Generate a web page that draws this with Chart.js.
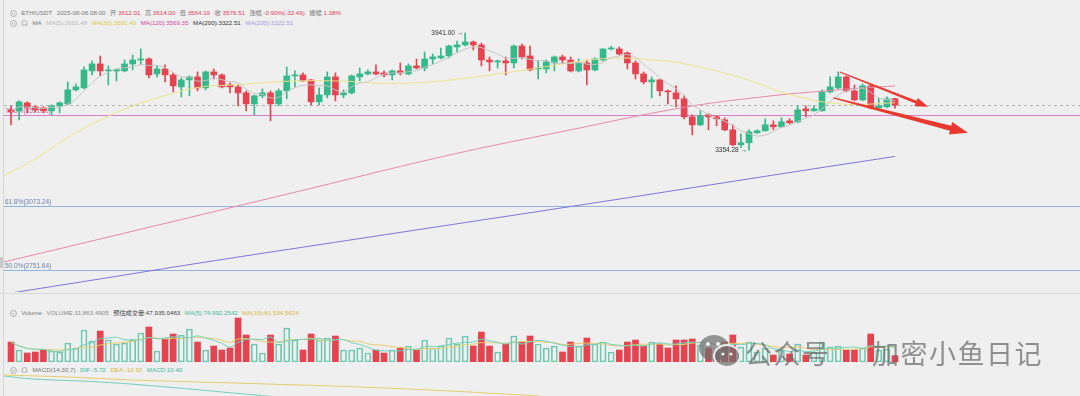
<!DOCTYPE html>
<html>
<head>
<meta charset="utf-8">
<script src="https://cdn.jsdelivr.net/npm/chart.js@4.4.1/dist/chart.umd.min.js"></script>
<style>
html, body { margin: 0; padding: 0; width: 1080px; height: 396px; overflow: hidden; background: #efefef;
    font-family: "Liberation Sans", Arial, "Noto Sans CJK SC", sans-serif; }
.pane { position: absolute; left: 4px; }
.t { position: absolute; left: 10px; height: 8px; font-size: 6.2px; line-height: 8px; white-space: nowrap; color: #777; }
.t > * { display: inline-block; vertical-align: middle; margin-right: 2.8px; }
.t svg { margin-right: 2.5px; }
.r { color: #e0405a; font-weight: normal; }
.sep { position: absolute; left: 0; width: 1080px; height: 1px; background: #d9d9d9; }
.wm { position: absolute; top: 339px; font-family: "Noto Sans CJK SC", sans-serif; font-size: 27px; line-height: 28px;
    letter-spacing: 1.5px; color: rgba(105,105,105,0.72); white-space: nowrap; }
</style>
</head>
<body>

<!-- header rows -->
<div class="t" style="top:9px">
    <svg width="7" height="7"><circle cx="3.5" cy="3.5" r="3" fill="none" stroke="#9a9a9a" stroke-width="0.7"/><path d="M2 3 L3.5 4.5 L5 3" fill="none" stroke="#9a9a9a" stroke-width="0.7"/></svg>
    <span>ETH/USDT</span>
    <span>2025-08-06 08:00</span>
    <span>开 <b class="r">3612.01</b></span>
    <span>高 <b class="r">3614.00</b></span>
    <span>低 <b class="r">3564.19</b></span>
    <span>收 <b class="r">3579.51</b></span>
    <span>涨幅 <b class="r">-0.90%(-32.49)</b></span>
    <span>振幅 <b class="r">1.38%</b></span>
</div>
<div class="t" style="top:19px">
    <svg width="7" height="7"><circle cx="3.5" cy="3.5" r="3" fill="none" stroke="#9a9a9a" stroke-width="0.7"/><path d="M2 3 L3.5 4.5 L5 3" fill="none" stroke="#9a9a9a" stroke-width="0.7"/></svg>
    <svg width="7" height="7"><path d="M1 5 L1 3 A2.5 2.5 0 0 1 6 3 L6 5 Z" fill="none" stroke="#9a9a9a" stroke-width="0.7"/></svg>
    <span>MA</span>
    <span style="color:#b9b9b9">MA(5):3601.48</span>
    <span style="color:#e0c93c">MA(30):3591.40</span>
    <span style="color:#d2479a">MA(120):3569.35</span>
    <span style="color:#333">MA(200):3322.51</span>
    <span style="color:#9d98e2">MA(200):3322.51</span>
</div>

<div class="sep" style="top:293px"></div>
<div style="position:absolute;left:3px;top:0;width:1px;height:396px;background:#d6d6d6"></div>
<div style="position:absolute;left:0;top:257px;width:3px;height:11px;background:#c9c9c9"></div>

<div class="t" style="top:309px">
    <svg width="7" height="7"><circle cx="3.5" cy="3.5" r="3" fill="none" stroke="#9a9a9a" stroke-width="0.7"/><path d="M2 3 L3.5 4.5 L5 3" fill="none" stroke="#9a9a9a" stroke-width="0.7"/></svg>
    <span>Volume</span>
    <span style="color:#8a8a8a">VOLUME:31,863.4905</span>
    <span style="color:#444">预估成交量:47,935.0463</span>
    <span style="color:#3db99b">MA(5):74,992.2542</span>
    <span style="color:#d8b73a">MA(10):81,534.5624</span>
</div>
<div class="t" style="top:366px">
    <svg width="7" height="7"><circle cx="3.5" cy="3.5" r="3" fill="none" stroke="#9a9a9a" stroke-width="0.7"/><path d="M2 3 L3.5 4.5 L5 3" fill="none" stroke="#9a9a9a" stroke-width="0.7"/></svg>
    <svg width="7" height="7"><path d="M1 5 L1 3 A2.5 2.5 0 0 1 6 3 L6 5 Z" fill="none" stroke="#9a9a9a" stroke-width="0.7"/></svg>
    <span>MACD(14,30,7)</span>
    <span style="color:#3db99b">DIF:-5.72</span>
    <span style="color:#d8b73a">DEA:-10.92</span>
    <span style="color:#3db99b">MACD:10.40</span>
</div>

<canvas id="mainChart" class="pane" style="top:28px" width="1076" height="264"></canvas>
<canvas id="volChart" class="pane" style="top:316px" width="1076" height="46"></canvas>
<canvas id="macdChart" class="pane" style="top:365px" width="1076" height="31"></canvas>

<!-- watermark -->
<svg style="position:absolute;left:697px;top:333px" width="46" height="36">
    <ellipse cx="17" cy="15" rx="15" ry="13" fill="rgba(110,110,110,0.7)"/>
    <ellipse cx="30" cy="23" rx="13" ry="11" fill="rgba(110,110,110,0.7)" stroke="#efefef" stroke-width="2"/>
    <circle cx="11" cy="11" r="2" fill="#efefef"/><circle cx="21" cy="11" r="2" fill="#efefef"/>
    <circle cx="26" cy="21" r="1.6" fill="#efefef"/><circle cx="34" cy="21" r="1.6" fill="#efefef"/>
</svg>
<div class="wm" style="left:745px">公众号</div>
<div class="wm" style="left:872px">加密小鱼日记</div>

<script>
// ─── DATA ─────────────────────────────────────────────────────────────────────
const opens = [3556, 3551, 3591, 3571, 3566, 3551, 3576, 3586, 3656, 3666,
    3751, 3786, 3751, 3751, 3751, 3786, 3806, 3811, 3736, 3761,
    3731, 3671, 3706, 3721, 3666, 3746, 3731, 3681, 3671, 3641,
    3586, 3626, 3641, 3586, 3651, 3726, 3731, 3706, 3596, 3631,
    3721, 3631, 3641, 3721, 3736, 3746, 3741, 3731, 3751, 3736,
    3776, 3766, 3811, 3816, 3826, 3871, 3881, 3896, 3881, 3806,
    3796, 3801, 3791, 3876, 3826, 3761, 3761, 3791, 3821, 3806,
    3751, 3791, 3756, 3806, 3861, 3861, 3841, 3791, 3736, 3696,
    3706, 3651, 3641, 3611, 3521, 3481, 3531, 3521, 3506, 3456,
    3381, 3391, 3441, 3451, 3481, 3471, 3501, 3496, 3561, 3551,
    3551, 3646, 3666, 3721, 3651, 3606, 3676, 3566, 3571, 3612.01];
const highs = [3576, 3601, 3596, 3576, 3571, 3581, 3596, 3696, 3686, 3771,
    3801, 3826, 3776, 3761, 3806, 3831, 3861, 3816, 3776, 3781,
    3741, 3716, 3726, 3746, 3751, 3761, 3736, 3691, 3681, 3651,
    3631, 3661, 3651, 3661, 3771, 3751, 3741, 3708, 3666, 3746,
    3741, 3656, 3731, 3766, 3756, 3781, 3751, 3756, 3791, 3786,
    3811, 3846, 3836, 3866, 3881, 3901, 3941, 3901, 3891, 3821,
    3806, 3821, 3881, 3886, 3876, 3801, 3806, 3826, 3831, 3821,
    3811, 3806, 3816, 3862, 3876, 3871, 3846, 3801, 3746, 3721,
    3708, 3656, 3676, 3626, 3531, 3551, 3536, 3526, 3516, 3481,
    3436, 3456, 3456, 3511, 3501, 3516, 3511, 3576, 3576, 3576,
    3656, 3721, 3746, 3726, 3681, 3686, 3681, 3616, 3621, 3614.00];
const lows = [3481, 3506, 3541, 3546, 3541, 3531, 3541, 3581, 3651, 3661,
    3731, 3726, 3681, 3701, 3746, 3756, 3781, 3716, 3721, 3696,
    3646, 3621, 3626, 3651, 3656, 3711, 3666, 3641, 3576, 3551,
    3531, 3616, 3501, 3576, 3611, 3671, 3698, 3581, 3581, 3616,
    3601, 3616, 3636, 3701, 3731, 3731, 3721, 3706, 3731, 3731,
    3761, 3751, 3786, 3811, 3816, 3846, 3876, 3856, 3776, 3751,
    3766, 3731, 3766, 3811, 3751, 3711, 3741, 3751, 3791, 3746,
    3746, 3681, 3751, 3801, 3856, 3831, 3761, 3711, 3686, 3616,
    3626, 3586, 3571, 3511, 3431, 3476, 3456, 3476, 3451, 3376,
    3366, 3354.28, 3438, 3449, 3456, 3468, 3486, 3491, 3521, 3549,
    3549, 3641, 3661, 3646, 3601, 3601, 3561, 3556, 3566, 3564.19];
const closes = [3546, 3596, 3566, 3556, 3551, 3576, 3591, 3656, 3671, 3756,
    3786, 3751, 3756, 3757, 3786, 3806, 3811, 3731, 3761, 3731,
    3676, 3706, 3721, 3666, 3746, 3731, 3671, 3671, 3641, 3586,
    3626, 3641, 3586, 3651, 3726, 3731, 3701, 3596, 3631, 3721,
    3631, 3641, 3726, 3736, 3746, 3736, 3731, 3751, 3741, 3776,
    3766, 3811, 3821, 3826, 3876, 3881, 3896, 3881, 3806, 3796,
    3801, 3791, 3876, 3821, 3756, 3766, 3796, 3821, 3806, 3751,
    3791, 3756, 3811, 3861, 3866, 3836, 3791, 3736, 3696, 3706,
    3651, 3646, 3611, 3521, 3481, 3526, 3521, 3511, 3456, 3381,
    3391, 3446, 3451, 3481, 3471, 3496, 3491, 3556, 3551, 3561,
    3646, 3671, 3721, 3651, 3606, 3676, 3566, 3576, 3611, 3579.51];
const volumes = [100000, 60000, 45000, 50000, 60000, 55000, 50000, 95000, 70000, 160000,
    105000, 155000, 110000, 90000, 95000, 110000, 145000, 175000, 55000, 115000,
    140000, 135000, 165000, 100000, 60000, 80000, 60000, 70000, 220000, 135000,
    90000, 45000, 135000, 90000, 170000, 110000, 60000, 140000, 110000, 120000,
    130000, 60000, 60000, 70000, 45000, 60000, 45000, 60000, 70000, 80000,
    60000, 110000, 70000, 80000, 120000, 90000, 130000, 80000, 150000, 80000,
    50000, 90000, 130000, 100000, 130000, 90000, 70000, 80000, 50000, 100000,
    80000, 120000, 90000, 100000, 50000, 60000, 100000, 110000, 80000, 100000,
    90000, 70000, 110000, 110000, 115000, 85000, 70000, 50000, 100000, 135000,
    75000, 100000, 50000, 70000, 35000, 60000, 40000, 90000, 35000, 50000,
    100000, 75000, 80000, 60000, 60000, 70000, 140000, 60000, 65000, 31863.49];

// moving-average lines (candle index -> price)
const ma30At = [-0.86, 3.2, 6.9, 11.0, 15.0, 19.2, 23.3, 27.0, 34.6, 40.8, 44.9, 49.0,
    54.1, 62.4, 66.5, 70.5, 74.7, 78.8, 82.5, 90.1, 96.3, 102.5, 109];
const ma30 = [3225, 3315, 3415, 3505, 3575, 3630, 3670, 3680, 3700, 3700, 3690, 3690,
    3705, 3750, 3776, 3801, 3816, 3806, 3791, 3716, 3630, 3585, 3591.4];
const ma120At = [-0.86, 11.0, 23.3, 35.6, 54.1, 68.3, 82.5, 92.4, 101.6, 109];
const ma120 = [2794, 2909, 3029, 3149, 3330, 3450, 3565, 3620, 3655, 3676];
const ma200At = [-0.86, 11.0, 23.3, 48.0, 72.6, 97.3, 109];
const ma200 = [2633, 2709, 2789, 2942, 3094, 3250, 3322.51];

// MACD lines (only the visible part)
const difAt = [-0.86, 2.7, 11.0, 19.2, 27.4, 31.6, 35.6];
const dif = [40, 34, 28, 18, 6, 0, -6];
const deaAt = [-0.86, 6.9, 15.0, 23.3, 31.6, 43.0, 54.1, 65.2];
const dea = [42, 38, 32, 28, 24, 18, 10, 0];

// fibonacci / price levels
const levelPrices = [3579.51, 3531.11, 3073.24, 2751.64];
const levelNames = ['', '78.6%(3531.11)', '61.8%(3073.24)', '50.0%(2751.64)'];

// marked extremes and drawn arrows (index, price)
const highMark = { i: 56, p: 3941.00 };
const lowMark = { i: 91, p: 3354.28 };
const arrowLines = [
    { from: [102.2, 3746], to: [113.1, 3571] },
    { from: [101.4, 3616], to: [118.0, 3441] }
];

// ─── HELPERS ──────────────────────────────────────────────────────────────────
const GREEN = '#33b98a';
const RED = '#e5434f';
const idx = closes.map((_, i) => i);
const isUp = idx.map(i => closes[i] >= opens[i]);
const xRange = { min: -0.863, max: 131.81 };

const pts = (xs, ys) => xs.map((x, k) => ({ x, y: ys[k] }));
const movAvg = (arr, n) => arr.map((_, i) => {
    const s = arr.slice(Math.max(0, i - n + 1), i + 1);
    return { x: i, y: s.reduce((a, b) => a + b, 0) / s.length };
});

const baseOpts = (yMin, yMax) => ({
    responsive: false,
    animation: false,
    events: [],
    layout: { padding: 0 },
    plugins: { legend: { display: false }, tooltip: { enabled: false } },
    scales: {
        x: { type: 'linear', min: xRange.min, max: xRange.max, offset: false, display: false },
        y: { min: yMin, max: yMax, display: false }
    }
});

function drawArrow(ctx, x1, y1, x2, y2, w0, w1, headL, headW) {
    const ang = Math.atan2(y2 - y1, x2 - x1);
    const len = Math.hypot(x2 - x1, y2 - y1);
    ctx.save();
    ctx.translate(x1, y1);
    ctx.rotate(ang);
    ctx.beginPath();
    ctx.moveTo(0, -w0 / 2);
    ctx.lineTo(len - headL, -w1 / 2);
    ctx.lineTo(len - headL, -headW / 2);
    ctx.lineTo(len, 0);
    ctx.lineTo(len - headL, headW / 2);
    ctx.lineTo(len - headL, w1 / 2);
    ctx.lineTo(0, w0 / 2);
    ctx.closePath();
    ctx.fill();
    ctx.restore();
}

// ─── PLUGIN: levels, marks, arrows ────────────────────────────────────────────
const overlay = {
    id: 'overlay',
    beforeDatasetsDraw(chart) {
        const { ctx, chartArea: a, scales: { y } } = chart;
        const styles = [
            { color: '#b3b3b3', dash: [3, 3], text: '#d36fb5' },
            { color: '#d97ccb', dash: [], text: '#d36fb5' },
            { color: '#8fb2dc', dash: [], text: '#6b82b0' },
            { color: '#8fb2dc', dash: [], text: '#6b82b0' }
        ];
        ctx.save();
        ctx.font = '6.5px "Liberation Sans", Arial, sans-serif';
        levelPrices.forEach((p, k) => {
            const py = Math.round(y.getPixelForValue(p)) + 0.5;
            ctx.strokeStyle = styles[k].color;
            ctx.lineWidth = 1;
            ctx.setLineDash(styles[k].dash);
            ctx.beginPath();
            ctx.moveTo(a.left, py);
            ctx.lineTo(a.right, py);
            ctx.stroke();
            if (levelNames[k]) {
                ctx.fillStyle = styles[k].text;
                ctx.textBaseline = 'bottom';
                ctx.fillText(levelNames[k], a.left + 1, py - 1.5);
            }
        });
        ctx.restore();
    },
    afterDatasetsDraw(chart) {
        const { ctx, scales: { x, y } } = chart;
        ctx.save();
        ctx.font = '6.5px "Liberation Sans", Arial, sans-serif';
        ctx.fillStyle = '#333';
        ctx.textBaseline = 'middle';
        ctx.textAlign = 'right';
        [highMark, lowMark].forEach(m => {
            const px = x.getPixelForValue(m.i) - 2;
            const py = y.getPixelForValue(m.p);
            ctx.fillText(m.p.toFixed(2) + ' →', px, py);
        });
        ctx.fillStyle = '#e8392f';
        const sizes = [[1, 3, 13, 9], [1.5, 5, 18, 13]];
        arrowLines.forEach((ar, k) => {
            drawArrow(ctx,
                x.getPixelForValue(ar.from[0]), y.getPixelForValue(ar.from[1]),
                x.getPixelForValue(ar.to[0]), y.getPixelForValue(ar.to[1]),
                ...sizes[k]);
        });
        ctx.restore();
    }
};

// ─── MAIN CANDLE CHART ────────────────────────────────────────────────────────
new Chart(document.getElementById('mainChart'), {
    type: 'bar',
    data: {
        datasets: [
            {
                data: idx.map(i => ({ x: i, y: [lows[i], highs[i]] })),
                backgroundColor: idx.map(i => isUp[i] ? GREEN : RED),
                barThickness: 1,
                grouped: false,
                order: 10
            },
            {
                data: idx.map(i => ({ x: i, y: [opens[i], closes[i]] })),
                backgroundColor: idx.map(i => isUp[i] ? GREEN : RED),
                barThickness: 6,
                minBarLength: 1,
                grouped: false,
                order: 9
            },
            { type: 'line', data: movAvg(closes, 5), borderColor: '#c4c4c4', borderWidth: 1, pointRadius: 0, tension: 0.3, order: 1 },
            { type: 'line', data: pts(ma30At, ma30), borderColor: '#ebe38a', borderWidth: 1, pointRadius: 0, tension: 0.4, order: 1 },
            { type: 'line', data: pts(ma120At, ma120), borderColor: '#e38aa5', borderWidth: 1, pointRadius: 0, tension: 0.4, order: 1 },
            { type: 'line', data: pts(ma200At, ma200), borderColor: '#7d74d6', borderWidth: 1, pointRadius: 0, tension: 0.4, order: 1 }
        ]
    },
    options: baseOpts(2643.4, 3966.05),
    plugins: [overlay]
});

// ─── VOLUME CHART ─────────────────────────────────────────────────────────────
new Chart(document.getElementById('volChart'), {
    type: 'bar',
    data: {
        datasets: [
            {
                data: idx.map(i => ({ x: i, y: volumes[i] })),
                backgroundColor: idx.map(i => isUp[i] ? 'rgba(0,0,0,0)' : RED),
                borderColor: idx.map(i => isUp[i] ? '#6cc8b0' : RED),
                borderWidth: idx.map(i => isUp[i] ? 1 : 0),
                borderSkipped: false,
                barThickness: 6,
                order: 5
            },
            { type: 'line', data: movAvg(volumes, 5), borderColor: '#70d0bc', borderWidth: 1, pointRadius: 0, tension: 0.3, order: 1 },
            { type: 'line', data: movAvg(volumes, 10), borderColor: '#e6cc6a', borderWidth: 1, pointRadius: 0, tension: 0.3, order: 1 }
        ]
    },
    options: baseOpts(0, 230000)
});

// ─── MACD CHART ───────────────────────────────────────────────────────────────
new Chart(document.getElementById('macdChart'), {
    type: 'line',
    data: {
        datasets: [
            { data: pts(deaAt, dea), borderColor: '#e6cc6a', borderWidth: 1, pointRadius: 0, tension: 0.4 },
            { data: pts(difAt, dif), borderColor: '#70d0bc', borderWidth: 1, pointRadius: 0, tension: 0.4 }
        ]
    },
    options: baseOpts(0, 62)
});
</script>
</body>
</html>
